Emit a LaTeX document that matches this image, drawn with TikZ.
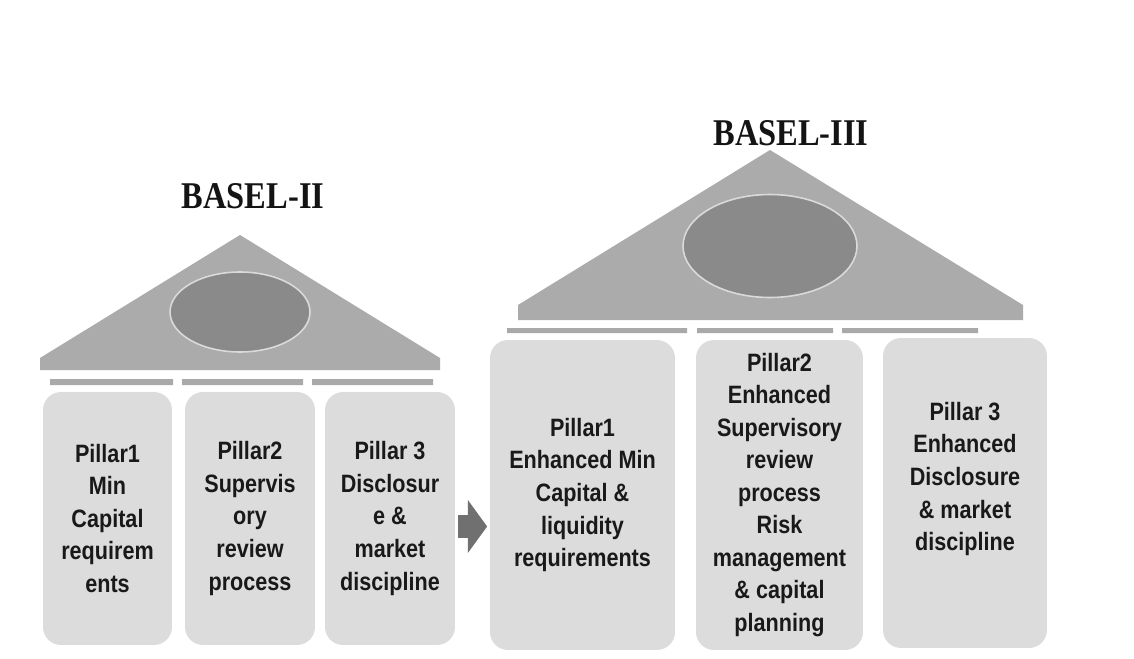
\documentclass[tikz,border=0pt]{standalone}
\usepackage{fontspec}
\usepackage{tikz}
\usetikzlibrary{positioning}
\usetikzlibrary{shapes.arrows}

\newfontfamily\pillarfont[FakeStretch=0.86]{Liberation Sans}
\newfontfamily\titlefont[FakeStretch=0.86]{Liberation Serif}

\definecolor{roofgray}{HTML}{ABABAB}
\definecolor{domegray}{HTML}{8A8A8A}
\definecolor{domeline}{HTML}{DADADA}
\definecolor{bargray}{HTML}{A9A9A9}
\definecolor{pillargray}{HTML}{DCDCDC}
\definecolor{arrowgray}{HTML}{707070}

\tikzset{
    pillar/.style={fill=pillargray, rounded corners=0.36cm, align=center,
        minimum height=5.06cm, text=black!90,
        font=\pillarfont\bfseries\fontsize{14.3}{18.5}\selectfont},
    bigpillar/.style={pillar, minimum height=6.2cm},
    pillartext/.style={align=center, text=black!90,
        font=\pillarfont\bfseries\fontsize{14.3}{18.5}\selectfont},
    title/.style={text=black!92, font=\titlefont\bfseries\fontsize{21.5}{24}\selectfont},
    roof/.style={fill=roofgray},
    dome/.style={fill=domegray, draw=domeline, line width=0.9pt},
    bar/.style={fill=bargray}
}

\begin{document}
\begin{tikzpicture}[x=0.02cm, y=-0.02cm]
    \useasboundingbox (0,0) rectangle (1134,659);

    % Basel II
    \path (253,196) node [title] (t2) {BASEL-II};
    \path [roof] (240,235) -- (440,358) -- (440,370) -- (40,370) -- (40,358) -- cycle;
    \path [dome] (240,312) ellipse [x radius=70, y radius=40];
    \path [bar] (50,379) rectangle (173,385) (182,379) rectangle (303,385)
        (312,379) rectangle (433,385);
    \path (107.5,518.5) node [pillar, minimum width=2.58cm] (l1)
        {Pillar1\\Min\\Capital\\requirem\\ents};
    \path (250,518.5) node [pillar, minimum width=2.6cm] (l2)
        {Pillar2\\Supervis\\ory\\review\\process};
    \path (390,518.5) node [pillar, minimum width=2.6cm] (l3)
        {Pillar 3\\Disclosur\\e \&\\market\\discipline};

    % Basel III
    \path (791,133) node [title] (t3) {BASEL-III};
    \path [roof] (770,150) -- (1023,305) -- (1023,320) -- (518,320) -- (518,305) -- cycle;
    \path [dome] (770,246) ellipse [x radius=87, y radius=51.5];
    \path [bar] (507,328) rectangle (687,333) (697,328) rectangle (833,333)
        (842,328) rectangle (978,333);
    \path (582.5,495) node [bigpillar, minimum width=3.7cm] (r1)
        {Pillar1\\Enhanced Min\\Capital \&\\liquidity\\requirements};
    \path (779.5,495) node [bigpillar, minimum width=3.34cm] (r2)
        {Pillar2\\Enhanced\\Supervisory\\review\\process\\Risk\\management\\\& capital\\planning};
    \path (965,493) node [bigpillar, minimum width=3.28cm] (r3) {};
    \path (r3.center) ++(0,-14) node [pillartext] (r3t)
        {Pillar 3\\Enhanced\\Disclosure\\\& market\\discipline};

    % move on
    \path (468.5,526.5) node [single arrow, fill=arrowgray, inner xsep=0pt,
        inner ysep=0.18cm, minimum width=1.06cm, minimum height=0.58cm,
        single arrow tip angle=108] (go) {};
\end{tikzpicture}
\end{document}
